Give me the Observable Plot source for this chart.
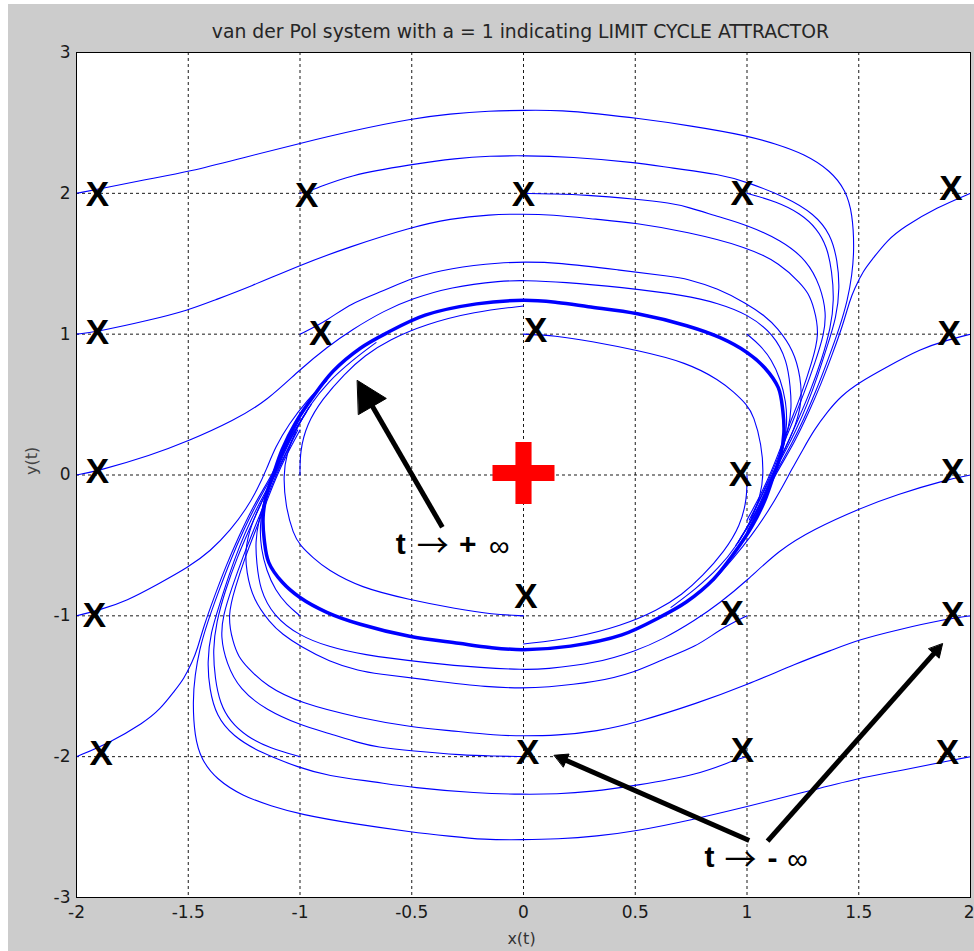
<!DOCTYPE html>
<html><head><meta charset="utf-8">
<script src="https://cdn.jsdelivr.net/npm/d3@7"></script>
<script src="https://cdn.jsdelivr.net/npm/@observablehq/plot@0.6"></script>
<style>
html,body{margin:0;padding:0;background:#fff;}
#page{position:relative;width:974px;height:951px;overflow:hidden;}
#panel{position:absolute;left:8px;top:4px;width:966px;height:947px;background:#cccccc;}
</style></head><body><div id="page"><div id="panel"></div></div>
<script>
// ---------- data ----------
const titleText = "van der Pol system with a = 1 indicating LIMIT CYCLE ATTRACTOR";
const xLabel = "x(t)";
const yLabel = "y(t)";
const xTicks = [-2, -1.5, -1, -0.5, 0, 0.5, 1, 1.5, 2];
const yTicks = [-3, -2, -1, 0, 1, 2, 3];

const limitCycle = [[0,1.24],[0.15,1.225],[0.29,1.195],[0.51,1.145],[0.73,1.06],[0.88,0.975],[1.0,0.87],[1.08,0.76],[1.14,0.62],[1.16,0.46],[1.165,0.3],[1.15,0.14],[1.12,0.0],[1.08,-0.18],[1.02,-0.37],[0.94,-0.56],[0.85,-0.74],[0.73,-0.9],[0.61,-1.01],[0.44,-1.135],[0.21,-1.215],[0,-1.24],[-0.15,-1.225],[-0.29,-1.195],[-0.51,-1.145],[-0.73,-1.06],[-0.88,-0.975],[-1.0,-0.87],[-1.08,-0.76],[-1.14,-0.62],[-1.16,-0.46],[-1.165,-0.3],[-1.15,-0.14],[-1.12,0.0],[-1.08,0.18],[-1.02,0.37],[-0.94,0.56],[-0.85,0.74],[-0.73,0.9],[-0.61,1.01],[-0.44,1.135],[-0.21,1.215]];

const trajM2P2 = [[-2,2.0],[-1.9,2.03],[-1.7,2.095],[-1.49,2.155],[-1.25,2.255],[-1.0,2.355],[-0.75,2.45],[-0.5,2.53],[-0.33,2.565],[-0.15,2.585],[0,2.59],[0.18,2.59],[0.33,2.565],[0.5,2.535],[0.75,2.48],[1.0,2.41],[1.13,2.35],[1.256,2.28],[1.375,2.16],[1.442,2.02],[1.472,1.857],[1.48,1.6],[1.47,1.42],[1.45,1.24],[1.415,1.05],[1.365,0.83],[1.31,0.6],[1.255,0.4],[1.2,0.22],[1.15,0.08],[1.11,-0.04],[1.07,-0.2],[1.01,-0.38]];
const trajP2M2 = [[2,-2.0],[1.9,-2.03],[1.7,-2.095],[1.49,-2.155],[1.25,-2.255],[1.0,-2.355],[0.75,-2.45],[0.5,-2.53],[0.33,-2.565],[0.15,-2.585],[0,-2.59],[-0.18,-2.59],[-0.33,-2.565],[-0.5,-2.535],[-0.75,-2.48],[-1.0,-2.41],[-1.13,-2.35],[-1.256,-2.28],[-1.375,-2.16],[-1.442,-2.02],[-1.472,-1.857],[-1.48,-1.6],[-1.47,-1.42],[-1.45,-1.24],[-1.415,-1.05],[-1.365,-0.83],[-1.31,-0.6],[-1.255,-0.4],[-1.2,-0.22],[-1.15,-0.08],[-1.11,0.04],[-1.07,0.2],[-1.01,0.38]];
const trajM1P2 = [[-1.0,2.0],[-0.94,2.025],[-0.78,2.13],[-0.5,2.205],[-0.3,2.25],[-0.15,2.265],[0,2.268],[0.21,2.26],[0.5,2.22],[0.66,2.18],[0.88,2.135],[1.0,2.08],[1.18,1.97],[1.30,1.855],[1.375,1.71],[1.405,1.52],[1.415,1.33],[1.40,1.12],[1.36,0.92],[1.32,0.72],[1.27,0.5],[1.22,0.32],[1.165,0.15],[1.12,0.02],[1.08,-0.12],[1.03,-0.3],[0.96,-0.48]];
const trajP1M2 = [[1.0,-2.0],[0.94,-2.025],[0.78,-2.13],[0.5,-2.205],[0.3,-2.25],[0.15,-2.265],[0,-2.268],[-0.21,-2.26],[-0.5,-2.22],[-0.66,-2.18],[-0.88,-2.135],[-1.0,-2.08],[-1.18,-1.97],[-1.30,-1.855],[-1.375,-1.71],[-1.405,-1.52],[-1.415,-1.33],[-1.40,-1.12],[-1.36,-0.92],[-1.32,-0.72],[-1.27,-0.5],[-1.22,-0.32],[-1.165,-0.15],[-1.12,-0.02],[-1.08,0.12],[-1.03,0.3],[-0.96,0.48]];
const trajP0P2 = [[0,2.0],[0.14,1.995],[0.27,1.99],[0.5,1.96],[0.66,1.93],[0.73,1.905],[0.88,1.83],[1.0,1.775],[1.15,1.67],[1.27,1.525],[1.33,1.335],[1.355,1.15],[1.345,1.0],[1.305,0.8],[1.255,0.58],[1.205,0.38],[1.15,0.17],[1.115,0.03],[1.07,-0.13],[1.01,-0.32]];
const trajP0M2 = [[0,-2.0],[-0.14,-1.995],[-0.27,-1.99],[-0.5,-1.96],[-0.66,-1.93],[-0.73,-1.905],[-0.88,-1.83],[-1.0,-1.775],[-1.15,-1.67],[-1.27,-1.525],[-1.33,-1.335],[-1.355,-1.15],[-1.345,-1.0],[-1.305,-0.8],[-1.255,-0.58],[-1.205,-0.38],[-1.15,-0.17],[-1.115,-0.03],[-1.07,0.13],[-1.01,0.32]];
const trajP1P2 = [[1.0,2.0],[1.134,1.94],[1.239,1.857],[1.313,1.75],[1.358,1.62],[1.38,1.45],[1.39,1.24],[1.375,1.05],[1.335,0.82],[1.28,0.58],[1.225,0.38],[1.165,0.17],[1.12,0.03],[1.075,-0.12],[1.02,-0.3]];
const trajM1M2 = [[-1.0,-2.0],[-1.134,-1.94],[-1.239,-1.857],[-1.313,-1.75],[-1.358,-1.62],[-1.38,-1.45],[-1.39,-1.24],[-1.375,-1.05],[-1.335,-0.82],[-1.28,-0.58],[-1.225,-0.38],[-1.165,-0.17],[-1.12,-0.03],[-1.075,0.12],[-1.02,0.3]];
const trajP2P2 = [[2.0,2.0],[1.85,1.9],[1.70,1.76],[1.627,1.667],[1.56,1.53],[1.52,1.45],[1.48,1.32],[1.46,1.24],[1.43,1.07],[1.385,0.87],[1.33,0.64],[1.275,0.44],[1.215,0.24],[1.16,0.09],[1.12,-0.02],[1.08,-0.16],[1.03,-0.32]];
const trajM2M2 = [[-2.0,-2.0],[-1.85,-1.9],[-1.70,-1.76],[-1.627,-1.667],[-1.56,-1.53],[-1.52,-1.45],[-1.48,-1.32],[-1.46,-1.24],[-1.43,-1.07],[-1.385,-0.87],[-1.33,-0.64],[-1.275,-0.44],[-1.215,-0.24],[-1.16,-0.09],[-1.12,0.02],[-1.08,0.16],[-1.03,0.32]];
const trajM2P1 = [[-2,1.0],[-1.9,1.02],[-1.67,1.1],[-1.5,1.17],[-1.385,1.24],[-1.224,1.336],[-1.0,1.49],[-0.78,1.62],[-0.5,1.76],[-0.33,1.82],[-0.15,1.85],[0,1.853],[0.12,1.85],[0.33,1.815],[0.5,1.79],[0.73,1.727],[1.0,1.62],[1.15,1.5],[1.24,1.36],[1.275,1.29],[1.30,1.19],[1.325,1.0],[1.29,0.8],[1.245,0.58],[1.195,0.38],[1.145,0.17],[1.11,0.03],[1.065,-0.13],[1.0,-0.32]];
const trajP2M1 = [[2,-1.0],[1.9,-1.02],[1.67,-1.1],[1.5,-1.17],[1.385,-1.24],[1.224,-1.336],[1.0,-1.49],[0.78,-1.62],[0.5,-1.76],[0.33,-1.82],[0.15,-1.85],[0,-1.853],[-0.12,-1.85],[-0.33,-1.815],[-0.5,-1.79],[-0.73,-1.727],[-1.0,-1.62],[-1.15,-1.5],[-1.24,-1.36],[-1.275,-1.29],[-1.30,-1.19],[-1.325,-1.0],[-1.29,-0.8],[-1.245,-0.58],[-1.195,-0.38],[-1.145,-0.17],[-1.11,-0.03],[-1.065,0.13],[-1.0,0.32]];
const trajM1P1 = [[-1.0,1.0],[-0.877,1.097],[-0.776,1.218],[-0.62,1.31],[-0.5,1.40],[-0.33,1.47],[-0.09,1.51],[0,1.512],[0.15,1.51],[0.43,1.455],[0.66,1.41],[0.73,1.394],[0.87,1.325],[1.0,1.216],[1.08,1.13],[1.134,1.05],[1.21,0.884],[1.24,0.69],[1.246,0.527],[1.22,0.36],[1.175,0.2],[1.13,0.05],[1.09,-0.1],[1.04,-0.27],[0.97,-0.45]];
const trajP1M1 = [[1.0,-1.0],[0.877,-1.097],[0.776,-1.218],[0.62,-1.31],[0.5,-1.40],[0.33,-1.47],[0.09,-1.51],[0,-1.512],[-0.15,-1.51],[-0.43,-1.455],[-0.66,-1.41],[-0.73,-1.394],[-0.87,-1.325],[-1.0,-1.216],[-1.08,-1.13],[-1.134,-1.05],[-1.21,-0.884],[-1.24,-0.69],[-1.246,-0.527],[-1.22,-0.36],[-1.175,-0.2],[-1.13,-0.05],[-1.09,0.1],[-1.04,0.27],[-0.97,0.45]];
const trajM2P0 = [[-2,0.0],[-1.9,0.03],[-1.667,0.14],[-1.5,0.24],[-1.295,0.387],[-1.145,0.53],[-1.0,0.75],[-0.877,0.91],[-0.77,1.03],[-0.62,1.17],[-0.5,1.25],[-0.33,1.335],[-0.09,1.38],[0,1.382],[0.18,1.37],[0.433,1.334],[0.73,1.275],[0.87,1.22],[1.0,1.145],[1.12,1.0],[1.18,0.81],[1.194,0.62],[1.2,0.48],[1.185,0.32],[1.155,0.16],[1.12,0.02],[1.08,-0.15],[1.02,-0.33],[0.95,-0.5]];
const trajP2P0 = [[2,0.0],[1.9,-0.03],[1.667,-0.14],[1.5,-0.24],[1.295,-0.387],[1.145,-0.53],[1.0,-0.75],[0.877,-0.91],[0.77,-1.03],[0.62,-1.17],[0.5,-1.25],[0.33,-1.335],[0.09,-1.38],[0,-1.382],[-0.18,-1.37],[-0.433,-1.334],[-0.73,-1.275],[-0.87,-1.22],[-1.0,-1.145],[-1.12,-1.0],[-1.18,-0.81],[-1.194,-0.62],[-1.2,-0.48],[-1.185,-0.32],[-1.155,-0.16],[-1.12,-0.02],[-1.08,0.15],[-1.02,0.33],[-0.95,0.5]];
const trajP0P1 = [[0,1.0],[0.14,0.99],[0.3,0.95],[0.51,0.885],[0.73,0.8],[0.88,0.67],[0.94,0.59],[1.0,0.5],[1.03,0.42],[1.065,0.22],[1.075,0.0],[1.06,-0.15],[1.02,-0.32],[0.955,-0.5],[0.875,-0.66],[0.77,-0.81],[0.66,-0.94]];
const trajP0M1 = [[0,-1.0],[-0.14,-0.99],[-0.3,-0.95],[-0.51,-0.885],[-0.73,-0.8],[-0.88,-0.67],[-0.94,-0.59],[-1.0,-0.5],[-1.03,-0.42],[-1.065,-0.22],[-1.075,0.0],[-1.06,0.15],[-1.02,0.32],[-0.955,0.5],[-0.875,0.66],[-0.77,0.81],[-0.66,0.94]];
const trajM1P0 = [[-1.0,0.0],[-1.0,0.17],[-0.97,0.36],[-0.9,0.54],[-0.8,0.72],[-0.71,0.85],[-0.6,0.96],[-0.44,1.07],[-0.22,1.16],[0,1.2]];
const trajP1P0 = [[1.0,0.0],[1.0,-0.17],[0.97,-0.36],[0.9,-0.54],[0.8,-0.72],[0.71,-0.85],[0.6,-0.96],[0.44,-1.07],[0.22,-1.16],[0,-1.2]];
const trajP1P1 = [[1.0,1.0],[1.06,0.92],[1.11,0.82],[1.15,0.68],[1.175,0.52],[1.18,0.36],[1.165,0.2],[1.14,0.07],[1.105,-0.06],[1.06,-0.22],[1.0,-0.4]];
const trajM1M1 = [[-1.0,-1.0],[-1.06,-0.92],[-1.11,-0.82],[-1.15,-0.68],[-1.175,-0.52],[-1.18,-0.36],[-1.165,-0.2],[-1.14,-0.07],[-1.105,0.06],[-1.06,0.22],[-1.0,0.4]];
const trajP2P1 = [[2.0,1.0],[1.9,0.96],[1.776,0.895],[1.63,0.77],[1.5,0.655],[1.42,0.56],[1.36,0.45],[1.3,0.32],[1.25,0.18],[1.2,0.04],[1.15,-0.11],[1.09,-0.27],[1.02,-0.43],[0.94,-0.59],[0.85,-0.75]];
const trajM2M1 = [[-2.0,-1.0],[-1.9,-0.96],[-1.776,-0.895],[-1.63,-0.77],[-1.5,-0.655],[-1.4,-0.54],[-1.31,-0.39],[-1.24,-0.24],[-1.19,-0.1],[-1.15,0.04],[-1.11,0.2],[-1.05,0.36],[-0.97,0.53],[-0.88,0.67]];

// the "X" marks that label the starting points
const startMarks = [[-1.906,1.99],[-0.97,1.985],[0,1.99],[0.978,2.0],[1.912,2.03],[-1.906,1.01],[-0.907,1.0],[0.055,1.026],[1.905,1.0],[-1.906,0.02],[0.971,0.0],[1.92,0.02],[-1.92,-1.0],[0.011,-0.868],[0.934,-0.986],[1.92,-0.99],[-1.89,-1.98],[0.019,-1.97],[0.98,-1.957],[1.897,-1.97]];
const equilibrium = [[0, 0]];

// annotation arrows (start -> tip) and label anchors
const arrowPlus = {x1: -0.363, y1: -0.371, x2: -0.743, y2: 0.671};
const arrowMinusLeft = {x1: 1.01, y1: -2.595, x2: 0.138, y2: -1.99};
const arrowMinusRight = {x1: 1.092, y1: -2.60, x2: 1.875, y2: -1.199};
const plusLabelAt = [{x: -0.5716, y: -0.5575}];
const minusLabelAt = [{x: 0.810, y: -2.786}];

// ---------- build ----------
const W = 974, H = 951, ML = 76, MR = 4, MT = 52, MB = 54;
const sx = d3.scaleLinear([-2, 2], [ML, W - MR]);
const sy = d3.scaleLinear([-3, 3], [H - MB, MT]);

const trajectoryList = [
  ["(-2,2)", trajM2P2], ["(2,-2)", trajP2M2], ["(-1,2)", trajM1P2], ["(1,-2)", trajP1M2],
  ["(0,2)", trajP0P2], ["(0,-2)", trajP0M2], ["(1,2)", trajP1P2], ["(-1,-2)", trajM1M2],
  ["(2,2)", trajP2P2], ["(-2,-2)", trajM2M2], ["(-2,1)", trajM2P1], ["(2,-1)", trajP2M1],
  ["(-1,1)", trajM1P1], ["(1,-1)", trajP1M1], ["(-2,0)", trajM2P0], ["(2,0)", trajP2P0],
  ["(0,1)", trajP0P1], ["(0,-1)", trajP0M1], ["(-1,0)", trajM1P0], ["(1,0)", trajP1P0],
  ["(1,1)", trajP1P1], ["(-1,-1)", trajM1M1], ["(2,1)", trajP2P1], ["(-2,-1)", trajM2M1]
];
const trajRows = trajectoryList.flatMap(([id, pts]) => pts.map(([x, y]) => ({id, x, y})));
const cycleRows = limitCycle.map(([x, y]) => ({x, y}));
const markRows = startMarks.map(([x, y]) => ({x, y}));
const eqRows = equilibrium.map(([x, y]) => ({x, y}));

function arrowParts(a, id, headLen, headWidth) {
  const p1 = [sx(a.x1), sy(a.y1)], t = [sx(a.x2), sy(a.y2)];
  const dx = t[0] - p1[0], dy = t[1] - p1[1], L = Math.hypot(dx, dy);
  const ux = dx / L, uy = dy / L, nx = -uy, ny = ux;
  const bx = t[0] - ux * headLen, by = t[1] - uy * headLen;
  const tri = [[t[0], t[1]], [bx + nx * headWidth / 2, by + ny * headWidth / 2], [bx - nx * headWidth / 2, by - ny * headWidth / 2]];
  const se = [t[0] - ux * headLen * 0.6, t[1] - uy * headLen * 0.6];
  return {
    shaft: {x1: a.x1, y1: a.y1, x2: sx.invert(se[0]), y2: sy.invert(se[1])},
    head: tri.map(([px, py]) => ({id, x: sx.invert(px), y: sy.invert(py)}))
  };
}
const arrows = [arrowParts(arrowPlus, "a", 30, 32), arrowParts(arrowMinusLeft, "b", 13, 14), arrowParts(arrowMinusRight, "c", 13, 14)];
const shafts = arrows.map(a => a.shaft);
const heads = arrows.flatMap(a => a.head);

const plusSymbol = {
  draw(context, size) {
    const r = Math.sqrt(size / Math.PI), t = r * 0.26;
    context.moveTo(-t, -r); context.lineTo(t, -r); context.lineTo(t, -t); context.lineTo(r, -t);
    context.lineTo(r, t); context.lineTo(t, t); context.lineTo(t, r); context.lineTo(-t, r);
    context.lineTo(-t, t); context.lineTo(-r, t); context.lineTo(-r, -t); context.lineTo(-t, -t);
    context.closePath();
  }
};

const SANS = "Liberation Sans, Arial, sans-serif";
const DV = "DejaVu Sans, sans-serif";
const ARROWFONT = "Noto Sans CJK JP, DejaVu Sans, sans-serif";

const chart = Plot.plot({
  width: W, height: H,
  marginLeft: ML, marginRight: MR, marginTop: MT, marginBottom: MB,
  x: {domain: [-2, 2]},
  y: {domain: [-3, 3]},
  style: {position: "absolute", left: "0px", top: "0px", background: "transparent", fontFamily: DV, fontSize: "17px", color: "#1a1a1a"},
  marks: [
    Plot.frame({fill: "white", stroke: null}),
    Plot.gridX(xTicks, {stroke: "#000", strokeOpacity: 0.9, strokeWidth: 1, strokeDasharray: "3,3"}),
    Plot.gridY(yTicks, {stroke: "#000", strokeOpacity: 0.9, strokeWidth: 1, strokeDasharray: "3,3"}),
    Plot.line(trajRows, {x: "x", y: "y", z: "id", stroke: "#0000ff", strokeWidth: 1.1, curve: "basis"}),
    Plot.line(cycleRows, {x: "x", y: "y", stroke: "#0000ff", strokeWidth: 3.5, curve: "catmull-rom-closed"}),
    Plot.text(markRows, {x: "x", y: "y", text: () => "X", fontSize: 35, fontWeight: "bold", fontFamily: SANS, fill: "#000", lineAnchor: "middle"}),
    Plot.dot(eqRows, {x: "x", y: "y", symbol: plusSymbol, r: 31, fill: "#ff0000", stroke: "none", dy: -2}),
    Plot.link(shafts, {x1: "x1", y1: "y1", x2: "x2", y2: "y2", stroke: "#000", strokeWidth: 5}),
    Plot.line(heads, {x: "x", y: "y", z: "id", fill: "#000", stroke: "#000", strokeWidth: 1, curve: "linear-closed"}),
    // "t -> + infinity"
    Plot.text(plusLabelAt, {x: "x", y: "y", text: () => "t", textAnchor: "start", lineAnchor: "bottom", fontSize: 30, fontWeight: "bold", fontFamily: SANS, fill: "#000"}),
    Plot.text(plusLabelAt, {x: "x", y: "y", text: () => "\u2192", textAnchor: "start", lineAnchor: "middle", dx: 21, dy: -7, fontSize: 32, fontFamily: ARROWFONT, fill: "#000"}),
    Plot.text(plusLabelAt, {x: "x", y: "y", text: () => "+", textAnchor: "middle", lineAnchor: "middle", dx: 72, dy: -9, fontSize: 30, fontWeight: "bold", fontFamily: SANS, fill: "#000"}),
    Plot.text(plusLabelAt, {x: "x", y: "y", text: () => "\u221E", textAnchor: "middle", lineAnchor: "middle", dx: 103.5, dy: -6.5, fontSize: 29, fontFamily: SANS, fill: "#000"}),
    // "t -> - infinity"
    Plot.text(minusLabelAt, {x: "x", y: "y", text: () => "t", textAnchor: "start", lineAnchor: "bottom", fontSize: 30, fontWeight: "bold", fontFamily: SANS, fill: "#000"}),
    Plot.text(minusLabelAt, {x: "x", y: "y", text: () => "\u2192", textAnchor: "start", lineAnchor: "middle", dx: 20, dy: -7, fontSize: 32, fontFamily: ARROWFONT, fill: "#000"}),
    Plot.text(minusLabelAt, {x: "x", y: "y", text: () => "-", textAnchor: "middle", lineAnchor: "middle", dx: 68, dy: -9, fontSize: 30, fontWeight: "bold", fontFamily: SANS, fill: "#000"}),
    Plot.text(minusLabelAt, {x: "x", y: "y", text: () => "\u221E", textAnchor: "middle", lineAnchor: "middle", dx: 93, dy: -8, fontSize: 29, fontFamily: SANS, fill: "#000"}),
    Plot.frame({stroke: "#000", strokeWidth: 1}),
    Plot.axisX({ticks: xTicks.slice(0, -1), tickSize: 0, tickPadding: 8, tickFormat: d => String(d), label: null, fontSize: 17}),
    Plot.text(xTicks.slice(-1), {x: d => d, text: d => String(d), frameAnchor: "bottom", dy: 8, dx: 4, textAnchor: "end", lineAnchor: "top", fontSize: 17, fontFamily: DV}),
    Plot.axisY({ticks: yTicks, tickSize: 0, tickPadding: 6, tickFormat: d => String(d), label: null, fontSize: 17}),
    Plot.text([titleText], {text: d => d, frameAnchor: "top", dy: -15, dx: -3, lineAnchor: "bottom", fontSize: 18.8, fontFamily: DV, fill: "#262626"}),
    Plot.text([xLabel], {text: d => d, frameAnchor: "bottom", dy: 46, dx: -2, lineAnchor: "bottom", fontSize: 16, fontFamily: DV, fill: "#333"}),
    Plot.text([yLabel], {text: d => d, frameAnchor: "left", dx: -45, rotate: -90, lineAnchor: "middle", fontSize: 16, fontFamily: DV, fill: "#444"})
  ]
});
document.getElementById("page").appendChild(chart);
</script>
</body></html>
